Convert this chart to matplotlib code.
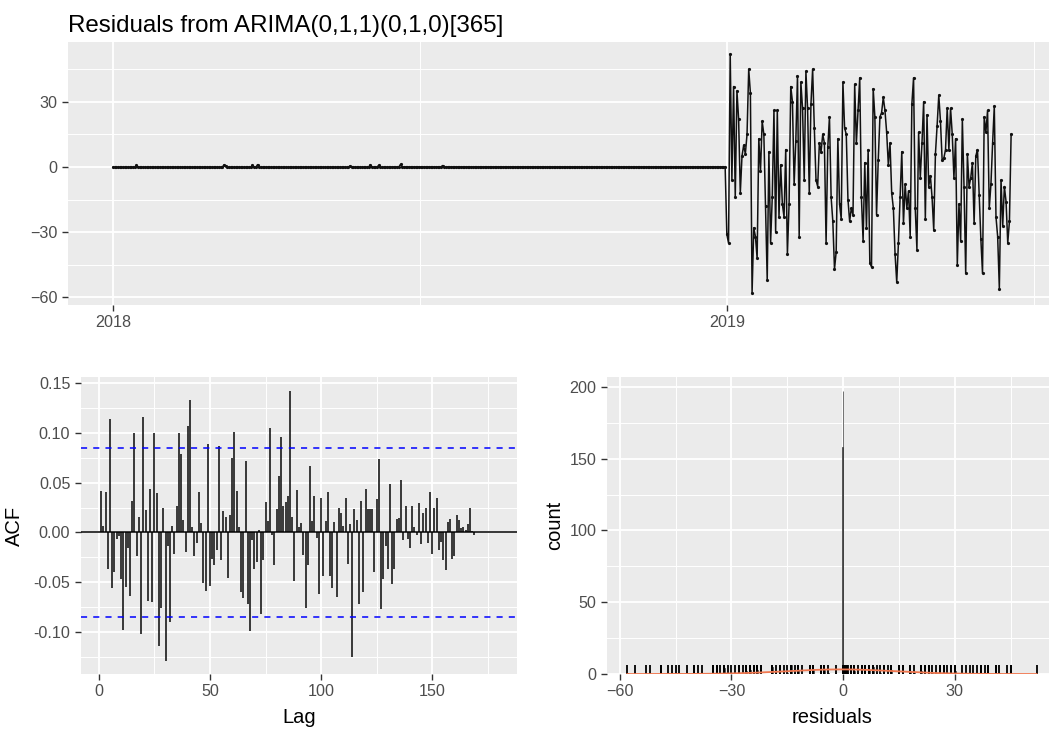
import numpy as np
import matplotlib
matplotlib.use("Agg")
import matplotlib.pyplot as plt
from matplotlib.ticker import FixedLocator

plt.rcParams['font.family'] = ['Liberation Sans', 'DejaVu Sans']

# --- data ------------------------------------------------------------------
# 2018: first seasonal period, residuals are essentially zero
flat_levels_2018 = [-0.15, 0.0]
flat_lengths_2018 = [166, 199]
blip_days_2018 = [14, 66, 67, 83, 86, 141, 153, 158, 171, 196]
blip_values_2018 = [0.7, 0.9, 0.6, 0.8, 1.1, 0.5, 1.0, 0.75, 1.2, 0.65]

# 2019: daily residuals
resid_2019 = [
    -31, -35, 52, -6, 37, -14, 35, 22, -12, 5, 10, 6, 15, 45, 34,
    -58, -28, -32, -42, 13, -2, 21, 15, -18, -52, 7, -35, -14, 26, -30,
    26, -23, 1, -17, -23, 8, -40, -17, 37, 30, -8, 12, 42, -32,
    39, 27, -6, 44, 27, -12, 29, 45, 18, -6, -9, 11, 7, 15, 11,
    -35, 9, 23, -14, -25, -47, -39, 13, -17, -24, 39, 18, 15, -15, -25,
    -19, -22, 38, 11, 26, 41, -14, -34, 2, -28, 8, -44, -46, 36, 23,
    -22, 3, 23, 25, 32, 26, 16, 1, 11, -12, -19, -40, -53, -35, -14,
    7, -26, -8, -19, -11, -32, 29, 41, -19, -38, 16, -5, 11, 30, -24,
    24, -9, -4, -14, -29, 6, 19, 33, 21, 3, 4, 8, 27,
    8, 27, 15, -5, 13, -45, -17, -34, 22, -9, -49, 6, -9, -5, 2,
    -26, 5, 8, -13, -33, -49, 23, 16, 26, -19, -8, 11, 28, -23, -32,
    -56, -6, -27, -9, -16, -35, -25, 15,
]

acf_values = [
    0.042, 0.006, 0.041, -0.037, 0.114, -0.056, -0.040, -0.007, -0.004, -0.047,
    -0.098, -0.055, -0.016, -0.064, 0.032, 0.100, -0.024, 0.015, -0.102, 0.116,
    0.022, -0.069, 0.044, -0.070, 0.100, 0.040, -0.114, -0.076, 0.025, -0.129,
    -0.014, -0.090, 0.006, -0.022, 0.027, 0.100, 0.079, 0.012, -0.020, 0.107,
    0.133, 0.005, -0.024, -0.011, 0.041, 0.009, -0.051, -0.059, 0.089, -0.054,
    -0.027, -0.033, -0.018, 0.087, -0.028, 0.021, 0.015, -0.046, 0.017, 0.075,
    0.101, 0.042, 0.005, -0.060, -0.066, 0.072, -0.072, -0.099, -0.008, -0.037,
    -0.030, 0.002, -0.082, -0.028, 0.031, 0.011, 0.105, -0.003, -0.033, 0.023,
    0.057, 0.096, 0.027, 0.031, 0.037, 0.142, 0.015, -0.049, 0.043, 0.005,
    0.009, -0.023, -0.076, -0.033, 0.067, 0.011, 0.037, -0.006, -0.062, 0.035,
    -0.044, 0.011, 0.041, -0.044, -0.056, 0.010, -0.065, 0.024, 0.019, 0.006,
    0.035, -0.032, 0.008, -0.125, 0.023, 0.012, -0.072, 0.032, -0.060, 0.044,
    0.023, 0.023, 0.023, -0.040, 0.034, 0.074, -0.077, -0.047, -0.014, -0.037,
    0.049, -0.052, -0.037, 0.013, 0.014, 0.053, -0.008, 0.027, -0.007, -0.016,
    0.027, 0.005, -0.003, 0.030, -0.012, 0.019, 0.025, -0.011, 0.041, -0.022,
    0.025, 0.035, -0.018, -0.010, -0.028, -0.038, 0.010, 0.013, -0.027, -0.024,
    0.017, 0.012, 0.004, 0.005, 0.002, 0.008, 0.024, 0.001, -0.003,
]
acf_bound = 0.085
freq = 365
start_year = 2018

# --- assemble ---------------------------------------------------------------
resid_2018 = np.repeat(flat_levels_2018, flat_lengths_2018)
resid_2018[blip_days_2018] = blip_values_2018
resid = np.concatenate([resid_2018, np.array(resid_2019, dtype=float)])
t = start_year + np.arange(len(resid)) / freq
lags = np.arange(1, len(acf_values) + 1)

PANEL = '#EBEBEB'
TXT = '#4D4D4D'


def gg_style(ax):
    ax.set_facecolor(PANEL)
    for s in ax.spines.values():
        s.set_visible(False)
    ax.grid(True, which='major', color='white', linewidth=1.35)
    ax.grid(True, which='minor', color='white', linewidth=0.7)
    ax.set_axisbelow(True)
    ax.tick_params(which='major', length=4.5, width=1.0, color='#333333',
                   labelcolor=TXT, labelsize=11.6, pad=3)
    ax.tick_params(which='minor', length=0)


fig = plt.figure(figsize=(10.49, 7.29), dpi=100)

# --- top: residual time series (panel runs past the right edge, as in the crop)
ax1 = fig.add_axes([0.0648, 0.5816, 0.9419, 0.3608])
gg_style(ax1)
ax1.plot(t, resid, color='#111111', linewidth=1.1, marker='o', markersize=2.3,
         markeredgewidth=0)
ax1.set_xticks([2018, 2019])
ax1.set_xticklabels(['2018', '2019'])
ax1.xaxis.set_minor_locator(FixedLocator([2018.5, 2019.5]))
ax1.set_yticks([-60, -30, 0, 30])
ax1.yaxis.set_minor_locator(FixedLocator([-45, -15, 15, 45]))
ax1.margins(x=0.05, y=0.05)
ax1.set_title('Residuals from ARIMA(0,1,1)(0,1,0)[365]', loc='left',
              fontsize=17.4, color='black', pad=7, x=-0.0)

# --- bottom left: ACF --------------------------------------------------------
ax2 = fig.add_axes([0.0769, 0.0754, 0.4159, 0.4074])
gg_style(ax2)
ax2.vlines(lags, 0, acf_values, color='#1a1a1a', linewidth=1.2)
ax2.axhline(0, color='black', linewidth=1.1)
ax2.axhline(acf_bound, color='blue', linewidth=1.1, linestyle=(0, (4, 4)))
ax2.axhline(-acf_bound, color='blue', linewidth=1.1, linestyle=(0, (4, 4)))
ax2.set_xlim(-8.2, 188.1)
ax2.set_ylim(-0.1426, 0.1563)
ax2.set_xticks([0, 50, 100, 150])
ax2.xaxis.set_minor_locator(FixedLocator([25, 75, 125, 175]))
ax2.set_yticks([-0.10, -0.05, 0.0, 0.05, 0.10, 0.15])
ax2.set_yticklabels(['-0.10', '-0.05', '0.00', '0.05', '0.10', '0.15'])
ax2.yaxis.set_minor_locator(FixedLocator([-0.125, -0.075, -0.025, 0.025, 0.075, 0.125]))
ax2.set_xlabel('Lag', fontsize=14.5, labelpad=6)
ax2.set_ylabel('ACF', fontsize=14.5, labelpad=7)

# --- bottom right: histogram --------------------------------------------------
ax3 = fig.add_axes([0.5784, 0.0754, 0.4293, 0.4074])
gg_style(ax3)
n_bins = 500
edges = np.linspace(resid.min(), resid.max(), n_bins + 1)
bw = edges[1] - edges[0]
ax3.hist(resid, bins=edges, color='#3a3a3a', edgecolor='#3a3a3a', linewidth=0.5)
# fitted normal curve scaled to counts
mu, sd = resid.mean(), resid.std(ddof=1)
xs = np.linspace(resid.min(), resid.max(), 400)
dens = np.exp(-0.5 * ((xs - mu) / sd) ** 2) / (sd * np.sqrt(2 * np.pi))
ax3.plot(xs, dens * len(resid) * bw, color='#F07850', linewidth=1.3, zorder=5)
ax3.vlines(resid, 0, 0.03, transform=ax3.get_xaxis_transform(),
           color='black', linewidth=1.3)
ax3.margins(x=0.05, y=0.05)
ax3.set_xticks([-60, -30, 0, 30])
ax3.xaxis.set_minor_locator(FixedLocator([-45, -15, 15, 45]))
ax3.set_yticks([0, 50, 100, 150, 200])
ax3.yaxis.set_minor_locator(FixedLocator([25, 75, 125, 175]))
ax3.set_xlabel('residuals', fontsize=14.5, labelpad=6)
ax3.set_ylabel('count', fontsize=14.5, labelpad=4)

fig.savefig('out.png', dpi=100, facecolor='white')
